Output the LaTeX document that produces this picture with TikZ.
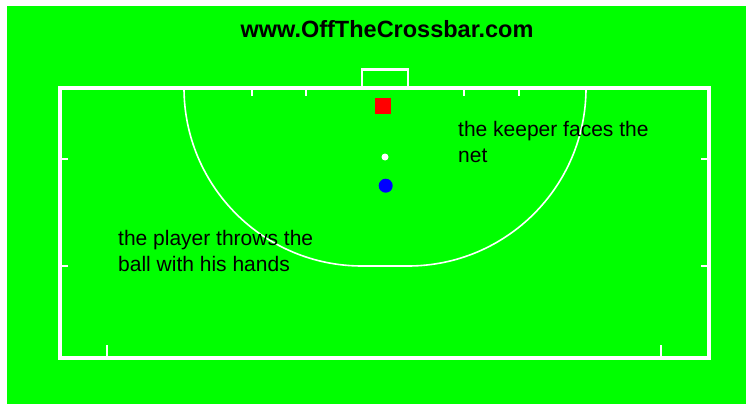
\documentclass[tikz,border=0pt]{standalone}
\usepackage{fontspec}
\setmainfont{Liberation Sans}
\usetikzlibrary{positioning}
\definecolor{pitchgreen}{HTML}{00FF00}
\definecolor{keeperred}{HTML}{FF0000}
\definecolor{ballblue}{HTML}{0000FF}
\tikzset{
  border/.style={draw=white, line width=3.2pt},
  goalline/.style={draw=white, line width=2.2pt},
  arcline/.style={draw=white, line width=1.6pt},
  tickmark/.style={draw=white, line width=2pt},
  note/.style={anchor=base west, align=left, inner sep=0pt, font=\fontsize{21}{26}\selectfont},
}

\begin{document}
\begin{tikzpicture}[x=1pt,y=-1pt]
    \useasboundingbox (0,0) rectangle (746,404);
    \fill[white] (0,0) rectangle (746,404);
    \fill[pitchgreen] (7,6) rectangle (746,404);

    \node (site) [font=\fontsize{23.5}{26}\bfseries\selectfont] at (387,29) {www.OffTheCrossbar.com};

    % pitch and goal
    \draw[goalline] (362,88) -- (362,69.5) -- (408,69.5) -- (408,88);
    \draw[arcline] (184,88) arc[start angle=180, end angle=90, radius=178] -- (408,266)
      arc[start angle=90, end angle=0, radius=178];
    \foreach \x in {252,306,464,519}{
      \draw[tickmark] (\x,88) -- (\x,96);
    }
    \foreach \y in {159,266}{
      \draw[tickmark] (60,\y) -- (68,\y);
      \draw[tickmark] (709,\y) -- (701,\y);
    }
    \foreach \x in {107,661}{
      \draw[tickmark] (\x,358) -- (\x,345);
    }
    \draw[border] (60,88) rectangle (709,358);

    % keeper, ball and player
    \node (keeper) [fill=keeperred, minimum size=16pt, inner sep=0pt] at (383,106) {};
    \node (ball) [circle, fill=white, minimum size=7pt, inner sep=0pt] at (385,157) {};
    \node (player) [circle, fill=ballblue, minimum size=14pt, inner sep=0pt] at (385.7,185.7) {};

    \node (keepernote) [note] at (458,162) {the keeper faces the\\net};
    \node (playernote) [note] at (118,271) {the player throws the\\ball with his hands};
  \end{tikzpicture}
\end{document}
